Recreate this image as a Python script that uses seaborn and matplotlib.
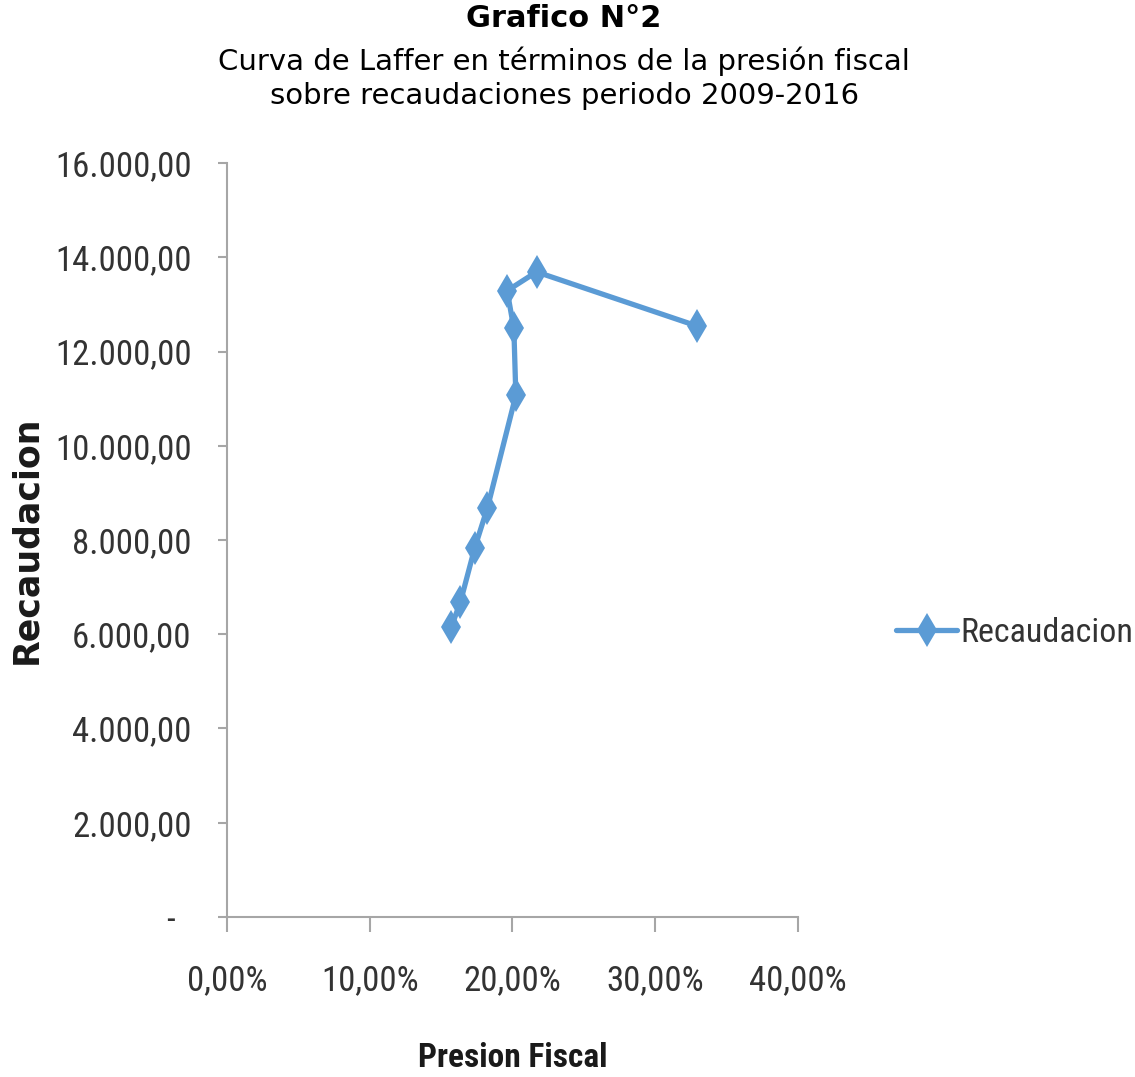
import matplotlib
matplotlib.use("Agg")
import matplotlib.pyplot as plt
from matplotlib import font_manager as fm
from matplotlib.ticker import FuncFormatter, MultipleLocator
import seaborn as sns
import pandas as pd

# Presión fiscal (%) y recaudación, en el orden en que se unen los puntos
presion_fiscal = [15.73, 16.36, 17.37, 18.26, 20.25, 20.11, 19.64, 21.70, 32.97]
recaudacion = [6160, 6680, 7835, 8685, 11070, 12490, 13290, 13690, 12540]

titulo = "Grafico N°2"
subtitulo = ["Curva de Laffer en términos de la presión fiscal",
             "sobre recaudaciones periodo 2009-2016"]
serie = "Recaudacion"
etiqueta_x = "Presion Fiscal"
etiqueta_y = "Recaudacion"

df = pd.DataFrame({"Presion": presion_fiscal, "Recaudacion": recaudacion})

sns.set_theme(style="white")
plt.rcParams["font.family"] = ["DejaVu Sans"]


def pick_narrow():
    """Return (family, stretch) for the narrowest installed sans face."""
    entries = fm.fontManager.ttflist
    names = {f.name for f in entries}
    for cand in ["Liberation Sans Narrow", "Arial Narrow", "Roboto Condensed",
                 "Open Sans Condensed", "Noto Sans Condensed",
                 "DejaVu Sans Condensed"]:
        if cand in names:
            return cand, "normal"
    for f in entries:
        st = str(f.stretch)
        if st in ("condensed", "semi-condensed", "extra-condensed") or \
                (st.isdigit() and int(st) < 500):
            return f.name, st
    return "Liberation Sans", "normal"


narrow_family, narrow_stretch = pick_narrow()
narrow = [narrow_family, "DejaVu Sans"]
is_condensed = narrow_family != "Liberation Sans"
tick_size = 25 if is_condensed else 22

azul = "#5B9BD5"
gris = "#A6A6A6"
texto = "#333333"

fig = plt.figure(figsize=(11.35, 10.77), dpi=100)
ax = fig.add_axes([0.2, 0.1486, 0.5027, 0.7000])

sns.lineplot(data=df, x="Presion", y="Recaudacion", sort=False, ax=ax,
             color=azul, linewidth=3.8, marker="d", markersize=17,
             markeredgewidth=0, label=serie, legend=False)

ax.set_xlim(0, 40)
ax.set_ylim(0, 16000)
ax.xaxis.set_major_locator(MultipleLocator(10))
ax.yaxis.set_major_locator(MultipleLocator(2000))


def fmt_y(v, pos):
    if abs(v) < 1e-9:
        return "-  "
    return f"{v:,.2f}".replace(",", "X").replace(".", ",").replace("X", ".")


def fmt_x(v, pos):
    return f"{v:.2f}".replace(".", ",") + "%"


ax.yaxis.set_major_formatter(FuncFormatter(fmt_y))
ax.xaxis.set_major_formatter(FuncFormatter(fmt_x))

for s in ["top", "right"]:
    ax.spines[s].set_visible(False)
for s in ["left", "bottom"]:
    ax.spines[s].set_color(gris)
    ax.spines[s].set_linewidth(1.5)

ax.tick_params(axis="y", which="major", left=True, length=6.5, width=1.5,
               color=gris, pad=19, labelsize=tick_size, labelcolor=texto)
ax.tick_params(axis="x", which="major", bottom=True, length=11, width=1.5,
               color=gris, pad=23, labelsize=tick_size, labelcolor=texto)
for lbl in ax.get_xticklabels() + ax.get_yticklabels():
    lbl.set_family(narrow)
    lbl.set_stretch(narrow_stretch)

ax.set_xlabel(etiqueta_x, fontsize=tick_size - 1, fontweight="bold",
              family=narrow, fontstretch=narrow_stretch,
              color="#1a1a1a", labelpad=32)
ax.set_ylabel(etiqueta_y, fontsize=25, fontweight="bold", color="#1a1a1a")
ax.yaxis.set_label_coords(-0.322, 0.5)

# Leyenda a la derecha del área de trazado
handles, labels = ax.get_legend_handles_labels()
fig.legend(handles, labels, loc="center left",
           bbox_to_anchor=(896 / 1135, 1 - 633 / 1077), frameon=False,
           handlelength=1.8, handletextpad=0.1, borderpad=0, borderaxespad=0,
           prop={"family": narrow, "size": tick_size - 0.5,
                 "stretch": narrow_stretch},
           labelcolor=texto)

# Título y subtítulo
fig.text(0.497, 1 - 4 / 1077, titulo, ha="center", va="top",
         fontsize=22, fontweight="bold", color="black")
fig.text(0.497, 1 - 47 / 1077, subtitulo[0], ha="center", va="top",
         fontsize=21, color="black")
fig.text(0.497, 1 - 82 / 1077, subtitulo[1], ha="center", va="top",
         fontsize=21, color="black")

fig.savefig("out.png", dpi=100, facecolor="white")
